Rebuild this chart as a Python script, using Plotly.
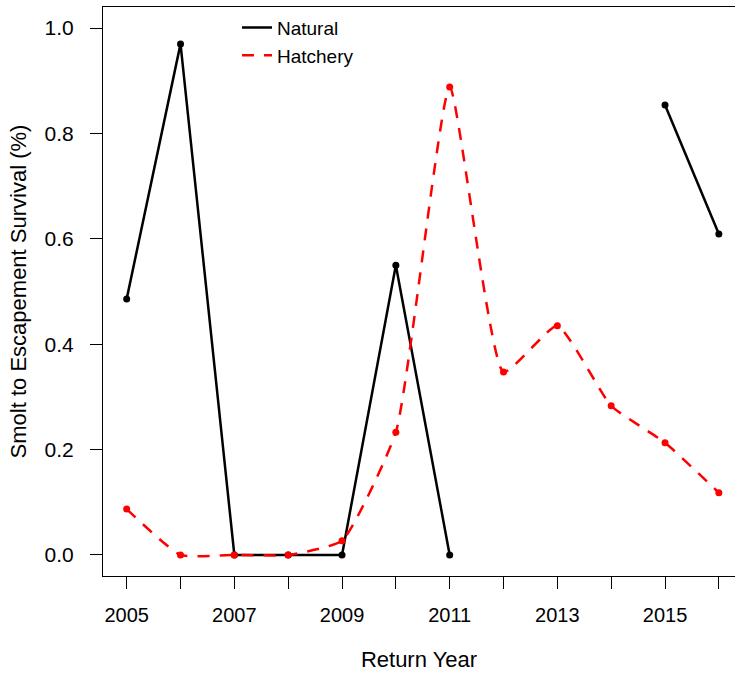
import plotly.graph_objects as go

# Return years and smolt-to-escapement survival (%) by origin
years = list(range(2005, 2017))
natural = [0.486, 0.970, 0.0, 0.0, 0.0, 0.550, 0.0, None, None, None, 0.854, 0.609]
hatchery = [0.087, 0.0, 0.0, 0.0, 0.027, 0.233, 0.888, 0.347, 0.435, 0.283, 0.213, 0.118]

x_tick_vals = years
x_tick_text = [str(y) if y % 2 == 1 else "" for y in years]
y_tick_vals = [0.0, 0.2, 0.4, 0.6, 0.8, 1.0]

FONT = "Liberation Sans, Arial, sans-serif"
RED = "#ff0000"

fig = go.Figure()

# Natural-origin survival: straight segments, gaps where no estimate
fig.add_trace(go.Scatter(
    x=years, y=natural, mode="lines+markers", name="Natural",
    line=dict(color="black", width=2.5), marker=dict(color="black", size=7),
    connectgaps=False, showlegend=False,
))

# Hatchery-origin survival: smoothed dashed curve
fig.add_trace(go.Scatter(
    x=years, y=hatchery, mode="lines+markers", name="Hatchery",
    line=dict(color=RED, width=2.5, dash="12px,10px", shape="spline", smoothing=0.45),
    marker=dict(color=RED, size=7),
    showlegend=False,
))

# Legend entries (line keys only)
fig.add_trace(go.Scatter(x=[None], y=[None], mode="lines", name="Natural",
                         line=dict(color="black", width=2.5)))
fig.add_trace(go.Scatter(x=[None], y=[None], mode="lines", name="Hatchery",
                         line=dict(color=RED, width=2.5, dash="12px,10px")))

fig.update_layout(
    width=735, height=673,
    margin=dict(l=103, r=0, t=7, b=97),
    plot_bgcolor="white", paper_bgcolor="white",
    font=dict(family=FONT, color="black"),
    legend=dict(
        x=0.212, y=0.997, xanchor="left", yanchor="top",
        bgcolor="rgba(0,0,0,0)", borderwidth=0,
        font=dict(size=19, family=FONT), tracegroupgap=0,
    ),
    xaxis=dict(
        range=[2004.56, 2016.30],
        tickmode="array", tickvals=x_tick_vals, ticktext=x_tick_text,
        ticks="outside", ticklen=12, tickwidth=1, tickcolor="black",
        tickfont=dict(size=20, family=FONT), ticklabelstandoff=9,
        showline=True, linecolor="black", linewidth=1, mirror=True,
        showgrid=False, zeroline=False,
        title=dict(text="Return Year", font=dict(size=22, family=FONT), standoff=26),
    ),
    yaxis=dict(
        range=[-0.04, 1.04],
        tickmode="array", tickvals=y_tick_vals, tickformat=".1f",
        ticks="outside", ticklen=12, tickwidth=1, tickcolor="black",
        tickfont=dict(size=21, family=FONT), ticklabelstandoff=12,
        showline=True, linecolor="black", linewidth=1, mirror=False,
        showgrid=False, zeroline=False,
        title=dict(text="Smolt to Escapement Survival (%)", font=dict(size=22, family=FONT), standoff=11),
    ),
)

fig.write_html("out.html")
